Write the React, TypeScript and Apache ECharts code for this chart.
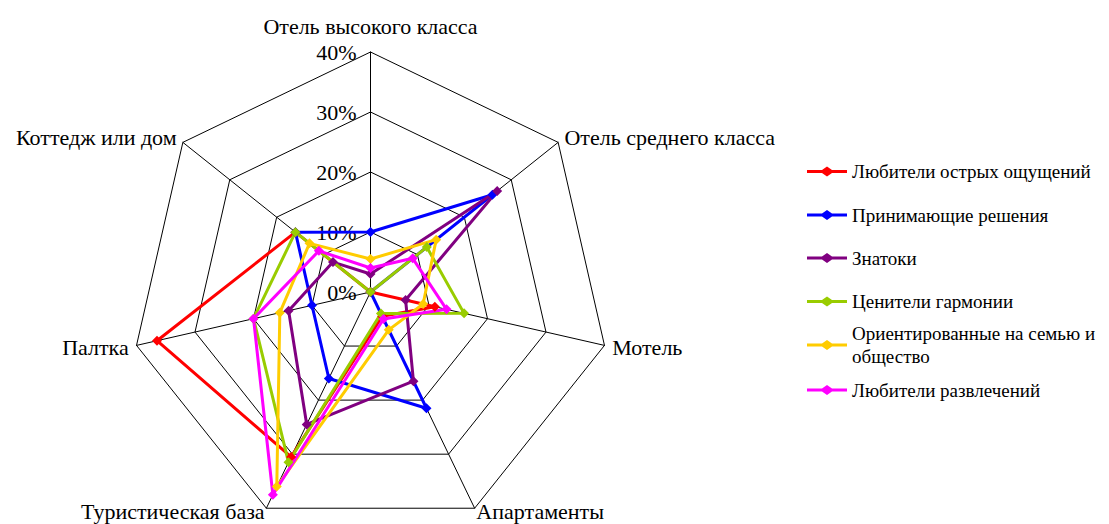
import React, { useEffect, useRef } from 'react';
import * as echarts from 'echarts';

// Axes (clockwise from the top)
const categories = [
  'Отель высокого класса',
  'Отель среднего класса',
  'Мотель',
  'Апартаменты',
  'Туристическая база',
  'Палтка',
  'Коттедж или дом',
];

const seriesNames = [
  'Любители острых ощущений',
  'Принимающие решения',
  'Знатоки',
  'Ценители гармонии',
  'Ориентированные на семью и общество',
  'Любители развлечений',
];

const seriesColors = ['#FF0000', '#0000FF', '#800080', '#99CC00', '#FFCC00', '#FF00FF'];

// values in %, same order as categories
const thrillSeekers = [0, 0, 11, 4.5, 30.5, 36.5, 16];
const decisionMakers = [10, 26, 0, 21.5, 16, 10, 16];
const connoisseurs = [3, 27, 6, 16.5, 24.5, 14, 8];
const harmonySeekers = [0, 12, 16, 4, 31.5, 20, 16];
const familyOriented = [5.5, 14, 9, 7, 36, 15.5, 13];
const entertainmentLovers = [4, 9, 13, 5, 37.5, 20, 11];

const seriesValues = [
  thrillSeekers,
  decisionMakers,
  connoisseurs,
  harmonySeekers,
  familyOriented,
  entertainmentLovers,
];

const axisMin = 0;
const axisMax = 40;
const tickLabels = ['0%', '10%', '20%', '30%', '40%'];

// ECharts places radar indicators counter-clockwise; reorder so they run clockwise
const order = [0, 6, 5, 4, 3, 2, 1];

const FONT = 'Liberation Serif';
const LEGEND_ICON = 'path://M0,3.5 L15,3.5 L20,0 L25,3.5 L40,3.5 L40,6.5 L25,6.5 L20,10 L15,6.5 L0,6.5 Z';
const TWO_LINE = 'Ориентированные на семью и общество';

export default function App() {
  const ref = useRef<HTMLDivElement>(null);
  useEffect(() => {
    if (!ref.current) return;
    const chart = echarts.init(ref.current, undefined, { renderer: 'svg' });
    const legendCenters = [171.5, 215, 258, 301.5, 345, 390];
    const LH = 23;
    const legends = seriesNames.map((name, i) => {
      const twoLine = name === TWO_LINE;
      return {
        orient: 'vertical',
        left: 807,
        top: legendCenters[i] - (twoLine ? LH * 1.5 : LH / 2),
        padding: 0,
        itemWidth: 40,
        itemHeight: 10,
        itemGap: 0,
        icon: LEGEND_ICON,
        selectedMode: false,
        data: [{ name, itemStyle: { color: seriesColors[i] } }],
        formatter: (n: string) => (n === TWO_LINE ? 'Ориентированные на семью и\nобщество' : n),
        textStyle: {
          color: '#000',
          fontFamily: FONT,
          fontSize: 19,
          lineHeight: LH,
          padding: twoLine ? [LH, 0, 0, 0] : 0,
        },
      };
    });
    const nameGapFor = (k: number) => (k === 0 ? 15 : k === 3 || k === 4 ? 4 : 8);
    chart.setOption({
      animation: false,
      backgroundColor: '#fff',
      legend: legends,
      radar: {
        center: [370.5, 292],
        radius: 240,
        startAngle: 90,
        shape: 'polygon',
        splitNumber: 4,
        nameGap: 8,
        axisName: { color: '#000', fontFamily: FONT, fontSize: 22 },
        axisLine: { lineStyle: { color: '#000', width: 1 } },
        splitLine: { lineStyle: { color: '#000', width: 1 } },
        splitArea: { show: false },
        axisTick: { show: false },
        axisLabel: {
          show: false,
          color: '#000',
          fontFamily: FONT,
          fontSize: 22,
          margin: 14,
          padding: [5, 0, 0, 0],
          formatter: (v: number) => tickLabels[Math.round(v / 10)] ?? '',
        },
        indicator: order.map((k) => ({
          name: categories[k],
          min: axisMin,
          max: axisMax,
          nameGap: nameGapFor(k),
          ...(k === 0 ? { axisLabel: { show: true } } : {}),
        })),
      },
      series: seriesNames.map((name, i) => ({
        type: 'radar',
        name,
        symbol: 'diamond',
        symbolSize: 10,
        color: seriesColors[i],
        lineStyle: { width: 3, color: seriesColors[i] },
        itemStyle: { color: seriesColors[i] },
        data: [{ name, value: order.map((k) => seriesValues[i][k]) }],
      })),
    });
    return () => chart.dispose();
  }, []);
  return <div ref={ref} style={{ position: 'absolute', left: 0, top: 0, width: 1109, height: 524 }} />;
}
